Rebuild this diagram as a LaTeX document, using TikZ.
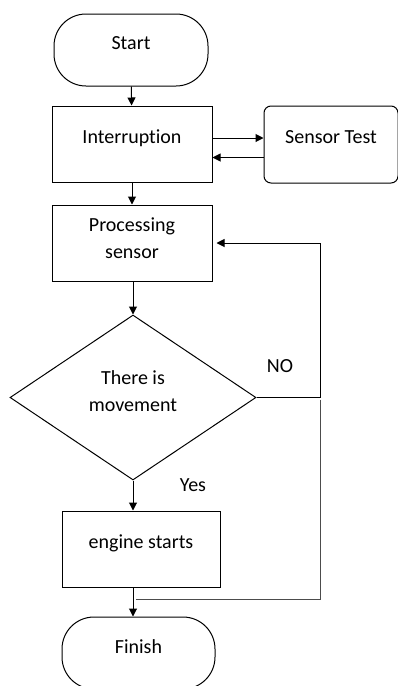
\documentclass[tikz,border=0pt]{standalone}
\usepackage{fontspec}
\setmainfont{Carlito}[Ligatures=NoCommon]
\usetikzlibrary{shapes.geometric,arrows.meta}
\begin{document}
\begin{tikzpicture}[x=1pt,y=-1pt,line width=1pt,
	>={Stealth[length=8pt,width=8pt,inset=0pt]},
	font=\fontsize{20}{27}\selectfont,
	term/.style={draw,rounded corners=32pt,minimum width=154pt,minimum height=72pt,text depth=13pt},
	box/.style={draw,minimum width=160pt,minimum height=76pt,align=center,text depth=14pt},
	test/.style={draw,rounded corners=7pt,minimum width=134pt,minimum height=77pt,text depth=14pt},
	decision/.style={draw,diamond,aspect=1.49,minimum width=246pt,minimum height=165pt,inner sep=0pt,align=center,text depth=12pt}]
	\useasboundingbox (0,0) rectangle (398,686);
	\node[term] (start) at (131,50) {Start};
	\node[box] (intr) at (132,144) {Interruption};
	\node[test] (sens) at (331,144.5) {Sensor Test};
	\node[box,text depth=10pt] (proc) at (132,243) {Processing\\sensor};
	\node[decision] (move) at (133,397.5) {There is\\movement};
	\node[box,minimum width=158pt] (eng) at (141,549) {engine starts};
	\node[term,minimum width=153pt] (fin) at (138.5,653) {Finish};
	\node (no) at (280,366) {NO};
	\node (yes) at (193,485) {Yes};
	\coordinate (loop) at (320,397.5);
	\coordinate (join) at (136,599);
	\draw[->] (start) -- (intr);
	\draw[->] ([yshift=6pt]intr.east) -- ([yshift=6pt]intr.east -| sens.west);
	\draw[->] ([yshift=-13pt]sens.west) -- ([yshift=-13pt]sens.west -| intr.east);
	\draw[->] (intr) -- (proc);
	\draw[->] (proc.south -| move.north) -- (move.north);
	\draw[->,shorten >=4pt] (move.east) -- (loop) |- (proc.east);
	\draw[->] (move.south) -- (move.south |- eng.north);
	\draw[->] (move.south |- eng.south) -- (move.south |- fin.north);
	\draw[black!70] ([yshift=-2pt]loop) |- (join);
\end{tikzpicture}
\end{document}
